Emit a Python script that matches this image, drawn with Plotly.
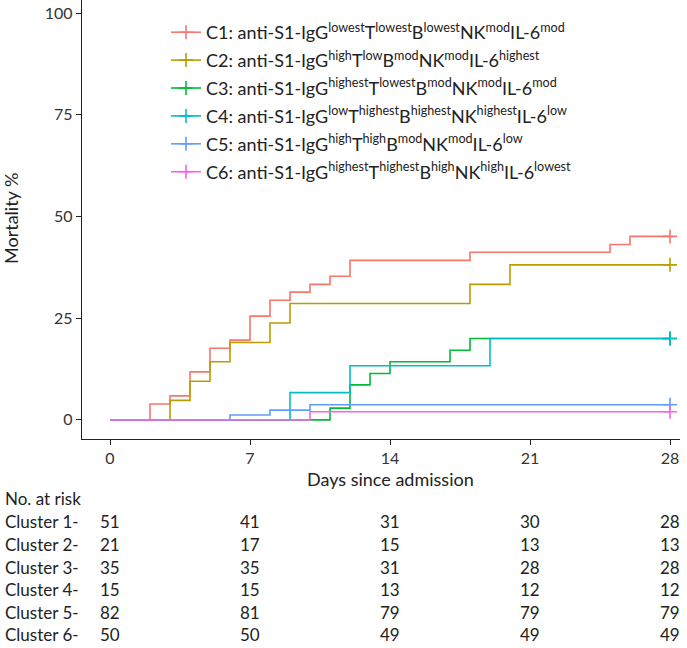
import plotly.graph_objects as go

# ---------------- data ----------------
c1_days = [0, 2, 3, 4, 5, 6, 7, 8, 9, 10, 11, 12, 18, 25, 26, 28]
c1_mort = [0, 3.9, 5.9, 11.8, 17.6, 19.6, 25.5, 29.4, 31.4, 33.3, 35.3, 39.2, 41.2, 43.1, 45.1, 45.1]

c2_days = [0, 3, 4, 5, 6, 8, 9, 18, 20, 28]
c2_mort = [0, 4.8, 9.5, 14.3, 19.0, 23.8, 28.6, 33.3, 38.1, 38.1]

c3_days = [0, 11, 12, 13, 14, 17, 18, 28]
c3_mort = [0, 2.9, 8.6, 11.4, 14.3, 17.1, 20.0, 20.0]

c4_days = [0, 9, 12, 19, 28]
c4_mort = [0, 6.7, 13.3, 20.0, 20.0]

c5_days = [0, 6, 8, 10, 28]
c5_mort = [0, 1.2, 2.4, 3.7, 3.7]

c6_days = [0, 10, 28]
c6_mort = [0, 2.0, 2.0]

legend_labels = [
    "C1: anti-S1-IgG<sup>lowest</sup>T<sup>lowest</sup>B<sup>lowest</sup>NK<sup>mod</sup>IL-6<sup>mod</sup>",
    "C2: anti-S1-IgG<sup>high</sup>T<sup>low</sup>B<sup>mod</sup>NK<sup>mod</sup>IL-6<sup>highest</sup>",
    "C3: anti-S1-IgG<sup>highest</sup>T<sup>lowest</sup>B<sup>mod</sup>NK<sup>mod</sup>IL-6<sup>mod</sup>",
    "C4: anti-S1-IgG<sup>low</sup>T<sup>highest</sup>B<sup>highest</sup>NK<sup>highest</sup>IL-6<sup>low</sup>",
    "C5: anti-S1-IgG<sup>high</sup>T<sup>high</sup>B<sup>mod</sup>NK<sup>mod</sup>IL-6<sup>low</sup>",
    "C6: anti-S1-IgG<sup>highest</sup>T<sup>highest</sup>B<sup>high</sup>NK<sup>high</sup>IL-6<sup>lowest</sup>",
]
colors = ["#F8766D", "#B79F00", "#00BA38", "#00BFC4", "#619CFF", "#F564E3"]

x_ticks = [0, 7, 14, 21, 28]
y_ticks = [0, 25, 50, 75, 100]

risk_rows = ["Cluster 1-", "Cluster 2-", "Cluster 3-", "Cluster 4-", "Cluster 5-", "Cluster 6-"]
risk_c1 = [51, 41, 31, 30, 28]
risk_c2 = [21, 17, 15, 13, 13]
risk_c3 = [35, 35, 31, 28, 28]
risk_c4 = [15, 15, 13, 12, 12]
risk_c5 = [82, 81, 79, 79, 79]
risk_c6 = [50, 50, 49, 49, 49]

# ---------------- figure ----------------
FONT = "Lato"
TXT = "#222"
W, H = 687, 648
ML, MR, MT, MB = 82, 7, 0, 209
PW, PH = W - ML - MR, H - MT - MB


def ypaper(ypix):
    return (H - MB - ypix) / PH


def xpaper(xpix):
    return (xpix - ML) / PW


curves = [(c1_days, c1_mort), (c2_days, c2_mort), (c3_days, c3_mort),
          (c4_days, c4_mort), (c5_days, c5_mort), (c6_days, c6_mort)]

fig = go.Figure()
for (d, m), col in zip(curves, colors):
    fig.add_trace(go.Scatter(x=d, y=m, mode="lines", line=dict(color=col, width=1.6, shape="hv"),
                             showlegend=False, hoverinfo="skip"))
    fig.add_trace(go.Scatter(x=[d[-1]], y=[m[-1]], mode="markers",
                             marker=dict(symbol="cross-thin", size=10, line=dict(color=col, width=1.6)),
                             showlegend=False, hoverinfo="skip"))
for i, (col, lab) in enumerate(zip(colors, legend_labels)):
    fig.add_trace(go.Scatter(x=[None], y=[None], mode="lines+markers", name=lab,
                             legendgroup="g%d" % i,
                             line=dict(color=col, width=1.6),
                             marker=dict(symbol="cross-thin", size=10, line=dict(color=col, width=1.6))))

# risk table
ann = []
ann.append(dict(text="No. at risk", x=xpaper(3), y=ypaper(498), xref="paper", yref="paper",
                xanchor="left", yanchor="middle", showarrow=False, font=dict(size=17, color=TXT)))
risk_all = [risk_c1, risk_c2, risk_c3, risk_c4, risk_c5, risk_c6]
row_y = [521, 544, 567, 589, 612, 634]
for name, vals, yy in zip(risk_rows, risk_all, row_y):
    ann.append(dict(text=name, x=xpaper(3), y=ypaper(yy), xref="paper", yref="paper",
                    xanchor="left", yanchor="middle", showarrow=False, font=dict(size=17, color=TXT)))
    for t, v in zip(x_ticks, vals):
        ann.append(dict(text=str(v), x=t, y=ypaper(yy), xref="x", yref="paper",
                        xanchor="center", yanchor="middle", showarrow=False, font=dict(size=17, color=TXT)))
# axis titles
ann.append(dict(text="Days since admission", x=14, y=ypaper(479), xref="x", yref="paper",
                xanchor="center", yanchor="middle", showarrow=False, font=dict(size=18, color=TXT)))
ann.append(dict(text="Mortality %", x=xpaper(11), y=ypaper(218), xref="paper", yref="paper",
                xanchor="center", yanchor="middle", textangle=-90, showarrow=False,
                font=dict(size=18, color=TXT)))

fig.update_layout(
    width=W, height=H,
    margin=dict(l=ML, r=MR, t=MT, b=MB, pad=0),
    paper_bgcolor="white", plot_bgcolor="white",
    font=dict(family=FONT, size=16, color="#333"),
    annotations=ann,
    legend=dict(x=xpaper(166), y=ypaper(14), xanchor="left", yanchor="top",
                font=dict(size=18, color=TXT), bgcolor="rgba(0,0,0,0)",
                itemwidth=30, tracegroupgap=1.5),
    xaxis=dict(range=[-1.4, 28.5], tickvals=x_ticks, showline=True, linecolor="#222", linewidth=1.3,
               ticks="outside", ticklen=5, tickcolor="#222", showgrid=False, zeroline=False,
               tickfont=dict(size=16, color="#333")),
    yaxis=dict(range=[-4.7, 103.2], tickvals=y_ticks, showline=True, linecolor="#222", linewidth=1.3,
               ticks="outside", ticklen=5, tickcolor="#222", showgrid=False, zeroline=False,
               tickfont=dict(size=16, color="#333")),
)

fig.write_html("out.html", config={"displayModeBar": False},
               post_script="document.body.style.margin='0';document.body.style.overflow='hidden';")
